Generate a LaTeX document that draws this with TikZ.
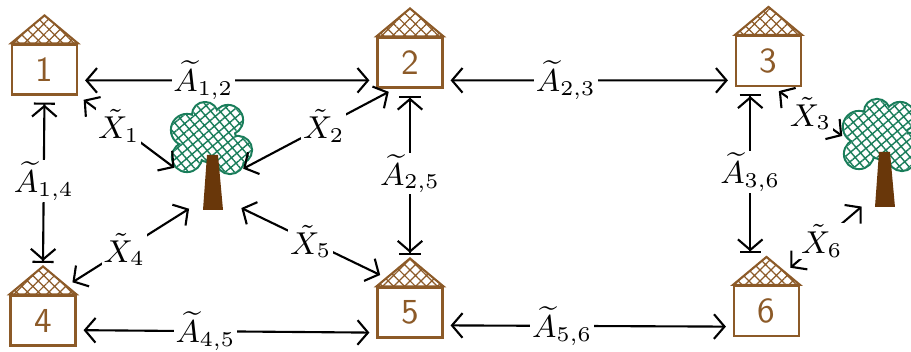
\documentclass[tikz,border=0pt]{standalone}
\usepackage{amsmath}
\usepackage{amssymb}
\usetikzlibrary{arrows.meta,patterns.meta,calc}
\definecolor{housebrown}{RGB}{140,90,40}
\definecolor{trunkbrown}{RGB}{105,55,10}
\definecolor{leafgreen}{RGB}{25,125,90}
\newcommand\leafpath{(-.26,.80) circle (.15) (-.08,.95) circle (.12) (.15,.90) circle (.14)
  (.25,.60) circle (.13) (-.26,.53) circle (.14) (.17,.50) circle (.13) (0,.70) circle (.22)}

\begin{document}
\begin{tikzpicture}[line width=.6pt,
    main/.style = {draw=housebrown, minimum width=6.5mm, minimum height=5mm, inner sep=0pt, text=housebrown, font=\sffamily},
    roof/.style = {draw=housebrown, pattern={Hatch[angle=45,distance=2.2pt,line width=.35pt]}, pattern color=housebrown},
    lab/.style = {fill=white, inner sep=.5pt, font=\small},
    link/.style = {{Straight Barb[length=3pt,width=7pt]}-{Straight Barb[length=3pt,width=7pt]}, shorten <=2pt, shorten >=2pt},
    vlink/.style = {{Bar[width=6pt]Straight Barb[length=3pt,width=7pt]}-{Straight Barb[length=3pt,width=7pt]Bar[width=6pt]}, shorten <=2pt, shorten >=1pt},
    tree/.pic = {
        \path[draw=leafgreen, line width=1.2pt] \leafpath;
        \path[fill=white] \leafpath;
        \path[pattern={Hatch[angle=40,distance=2pt,line width=.4pt]}, pattern color=leafgreen] \leafpath;
        \fill[trunkbrown] (-.10,0) -- (-.06,.55) -- (.05,.55) -- (.10,0) -- cycle;
        \coordinate (-fl) at (-.33,.38);
        \coordinate (-fr) at (.24,.38);
        \coordinate (-ml) at (-.37,.67);
        \coordinate (-bl) at (-.18,.05);
        \coordinate (-br) at (.22,.05);
    }]
    \useasboundingbox (0,0) rectangle (9.11,3.52);

    % houses
    \node[main] (1) at (0.445,2.825) {1};
    \node[main] (2) at (4.10,2.895)  {2};
    \node[main] (3) at (7.685,2.91)  {3};
    \node[main] (4) at (0.43,0.315)  {4};
    \node[main] (5) at (4.10,0.395)  {5};
    \node[main] (6) at (7.665,0.41)  {6};
    \foreach \i in {1,...,6}
        \draw[roof] (\i.north west) -- ($(\i.north)+(0,.28)$) coordinate (\i-top) -- (\i.north east) -- cycle;

    % trees
    \pic (t1) at (2.13,1.42) {tree};
    \pic (t2) at (8.85,1.45) {tree};

    % house to house
    \draw[link] (1.342) -- node[lab, pos=.42] {$\widetilde{A}_{1,2}$} (2.208);
    \draw[link] (2.332) -- node[lab, pos=.42] {$\widetilde{A}_{2,3}$} (3.210);
    \draw[link] (4.344) -- node[lab, pos=.43] {$\widetilde{A}_{4,5}$} (5.211);
    \draw[link] (5.339) -- node[lab, pos=.41] {$\widetilde{A}_{5,6}$} (6.205);
    \draw[vlink] (1.south) -- node[lab] {$\widetilde{A}_{1,4}$} (4-top);
    \draw[vlink] (2.south) -- node[lab] {$\widetilde{A}_{2,5}$} (5-top);
    \draw[vlink] (3.235) -- node[lab] {$\widetilde{A}_{3,6}$} (3.235 |- 6-top);

    % house to tree
    \draw[link] (1.south east) -- node[lab, pos=.4] {$\tilde{X}_1$} (t1-fl);
    \draw[link] (2.240) -- node[lab, pos=.45] {$\tilde{X}_2$} (t1-fr);
    \draw[link] ($(4.north east)!.3!(4-top)$) -- node[lab, pos=.45] {$\tilde{X}_4$} (t1-bl);
    \draw[link] ($(5.north west)!.3!(5-top)$) -- node[lab, pos=.5] {$\tilde{X}_5$} (t1-br);
    \draw[link] (3.280) -- node[lab, pos=.5] {$\tilde{X}_3$} (t2-ml);
    \draw[link] ($(6.north east)!.45!(6-top)$) -- node[lab, pos=.45] {$\tilde{X}_6$} (t2-bl);
\end{tikzpicture}
\end{document}
